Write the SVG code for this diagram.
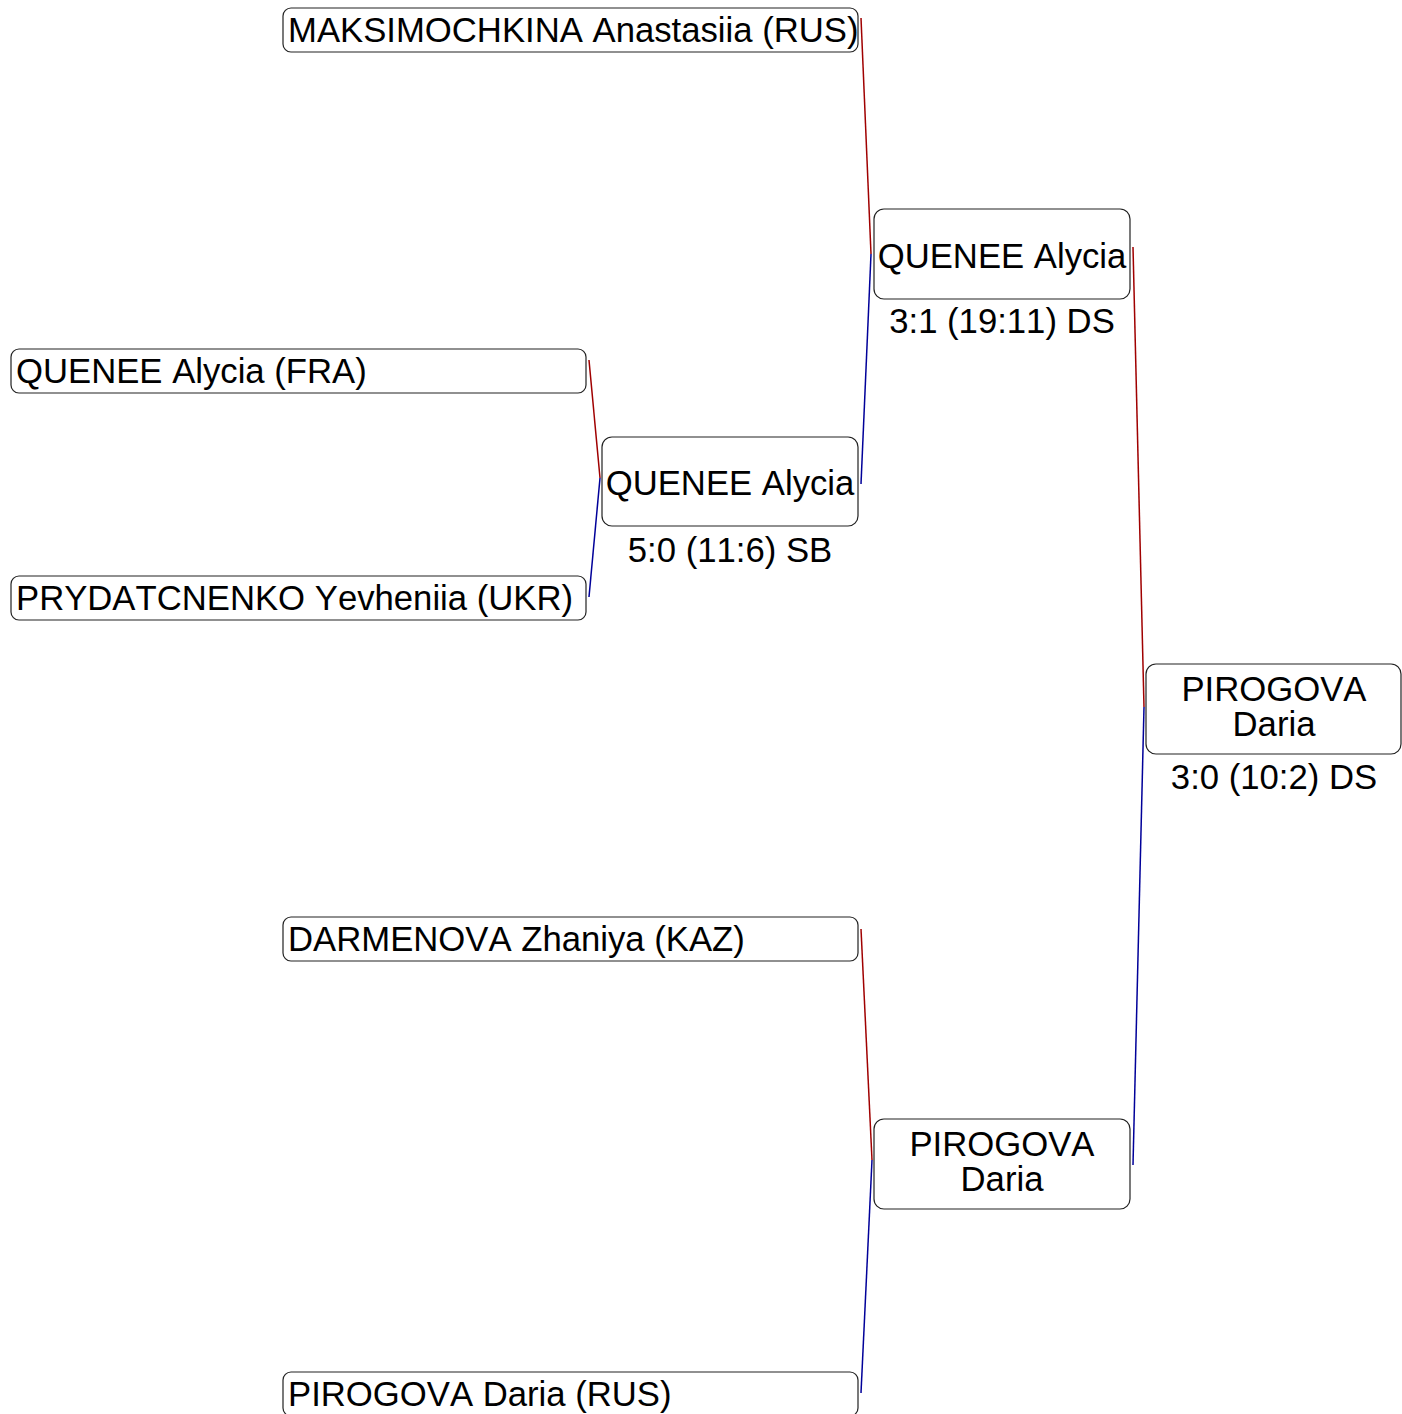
<svg xmlns="http://www.w3.org/2000/svg" width="1402" height="1414" viewBox="0 0 1402 1414">
<style>
.box{fill:#ffffff;stroke:#222222;stroke-width:1.2}
.t{font-family:"Liberation Sans",Arial,sans-serif;font-size:34.7px;fill:#000000;font-kerning:none}
.c{text-anchor:middle}
.r{stroke:#a00000;stroke-width:1.5;fill:none}
.b{stroke:#000099;stroke-width:1.5;fill:none}
</style>
<rect width="1402" height="1414" fill="#ffffff"/>
<g id="connectors">
<line class="r" x1="861" y1="18" x2="871" y2="254"/>
<line class="b" x1="871" y1="254" x2="861" y2="484"/>
<line class="r" x1="589" y1="360" x2="600" y2="478"/>
<line class="b" x1="600" y1="478" x2="589" y2="597"/>
<line class="r" x1="861" y1="929" x2="872" y2="1160"/>
<line class="b" x1="872" y1="1160" x2="861" y2="1393"/>
<line class="r" x1="1133" y1="247" x2="1144" y2="707"/>
<line class="b" x1="1144" y1="707" x2="1133" y2="1165"/>
</g>
<g id="n_maksimochkina">
<rect class="box" x="283" y="8" width="575" height="44" rx="8"/>
<text class="t" x="288" y="42">MAKSIMOCHKINA Anastasiia (RUS)</text>
</g>
<g id="n_quenee_fra">
<rect class="box" x="11" y="349" width="575" height="44" rx="8"/>
<text class="t" x="16" y="383">QUENEE Alycia (FRA)</text>
</g>
<g id="n_prydatcnenko">
<rect class="box" x="11" y="576" width="575" height="44" rx="8"/>
<text class="t" x="16" y="610">PRYDATCNENKO Yevheniia (UKR)</text>
</g>
<g id="n_darmenova">
<rect class="box" x="283" y="917" width="575" height="44" rx="8"/>
<text class="t" x="288" y="951">DARMENOVA Zhaniya (KAZ)</text>
</g>
<g id="n_pirogova_rus">
<rect class="box" x="283" y="1372" width="575" height="44" rx="8"/>
<text class="t" x="288" y="1406">PIROGOVA Daria (RUS)</text>
</g>
<g id="n_quenee_r2">
<rect class="box" x="602" y="437" width="256" height="89" rx="10"/>
<text class="t c" x="730" y="495">QUENEE Alycia</text>
<text class="t c" x="730" y="562">5:0 (11:6) SB</text>
</g>
<g id="n_quenee_sf">
<rect class="box" x="874" y="209" width="256" height="90" rx="10"/>
<text class="t c" x="1002" y="268">QUENEE Alycia</text>
<text class="t c" x="1002" y="333">3:1 (19:11) DS</text>
</g>
<g id="n_pirogova_sf">
<rect class="box" x="874" y="1119" width="256" height="90" rx="10"/>
<text class="t c" x="1002" y="1156">PIROGOVA</text>
<text class="t c" x="1002" y="1191">Daria</text>
</g>
<g id="n_pirogova_final">
<rect class="box" x="1146" y="664" width="255" height="90" rx="10"/>
<text class="t c" x="1274" y="701">PIROGOVA</text>
<text class="t c" x="1274" y="736">Daria</text>
<text class="t c" x="1274" y="789">3:0 (10:2) DS</text>
</g>
</svg>
